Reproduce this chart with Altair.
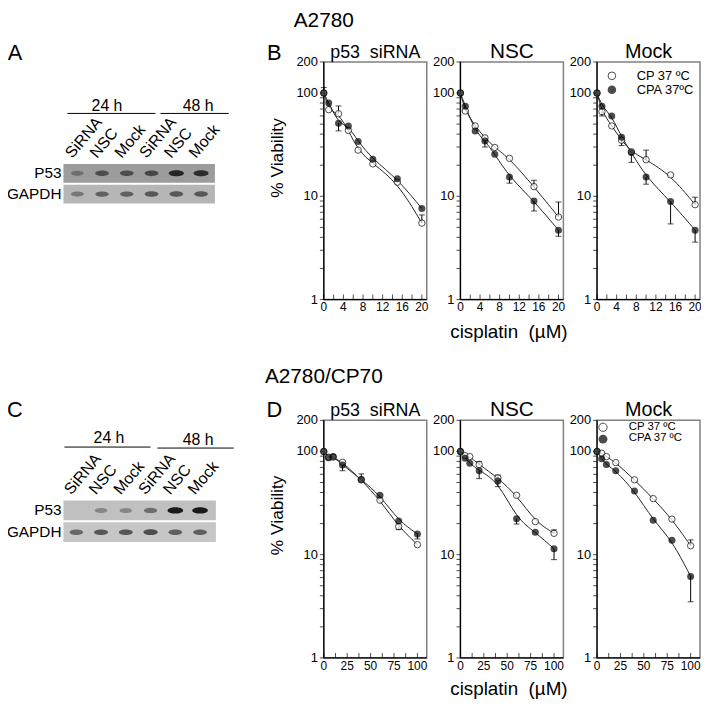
import altair as alt
import pandas as pd

W, H = 700, 692
OX, OY = 8, 8
FONT = "Liberation Sans"
NB = "\u00a0"

# ---------------- data ----------------
conc_a2780 = [0, 1, 3, 5, 7, 10, 15, 20]
conc_cp70 = [0, 5, 10, 20, 40, 60, 80, 100]

a2780_sirna_cp = [100, 69, 63, 43.5, 28, 20.6, 13.7, 5.5]
a2780_sirna_cpa = [100, 80, 51, 48, 34, 22.8, 14.8, 7.6]
a2780_nsc_cp = [100, 67, 48, 36.8, 29.7, 23.3, 12.4, 6.3]
a2780_nsc_cpa = [100, 74.5, 43, 34.4, 25.6, 15.4, 9.0, 4.7]
a2780_mock_cp = [100, 66, 48, 34.9, 27, 22.6, 16.1, 8.3]
a2780_mock_cpa = [100, 74.5, 59.8, 37.3, 26.6, 15.4, 8.9, 4.7]

cp70_sirna_cp = [100, 88, 88, 78.5, 53, 33.7, 18.7, 12.5]
cp70_sirna_cpa = [100, 87, 89.5, 74, 53.5, 37.6, 21.2, 15.9]
cp70_nsc_cp = [100, 91, 89, 74.6, 55.5, 37.6, 20.9, 16.1]
cp70_nsc_cpa = [100, 86, 77, 65, 51.6, 22.3, 16.5, 11.4]
cp70_mock_cp = [100, 96, 89, 77.9, 53.1, 34.9, 22.1, 12.2]
cp70_mock_cpa = [100, 85, 74.5, 65, 41.4, 21.5, 13.8, 6.15]

# error bars: (series, concentration, bar end)
a2780_sirna_err = [("CPA", 0, 113), ("CP", 3, 75), ("CPA", 3, 43), ("CP", 20, 6.6)]
a2780_nsc_err = [("CPA", 5, 30), ("CPA", 10, 13.4), ("CPA", 15, 7.2), ("CPA", 20, 4.1),
                 ("CP", 15, 14.3), ("CP", 20, 8.8)]
a2780_mock_err = [("CP", 1, 60), ("CP", 5, 31), ("CPA", 7, 21.3), ("CPA", 10, 13.1),
                  ("CP", 10, 28), ("CPA", 15, 5.4), ("CPA", 20, 3.6), ("CP", 20, 9.8)]
cp70_sirna_err = [("CPA", 20, 65), ("CPA", 40, 60.6), ("CP", 80, 17.5), ("CPA", 100, 14.2)]
cp70_nsc_err = [("CPA", 20, 54.5), ("CP", 20, 80), ("CPA", 40, 45.6), ("CP", 40, 59),
                ("CPA", 60, 19.8), ("CPA", 100, 8.95), ("CP", 100, 17.4)]
cp70_mock_err = [("CPA", 100, 3.5), ("CP", 100, 13.9)]

xticks_a2780 = [0, 2, 4, 6, 8, 10, 12, 14, 16, 18, 20]
xlabels_a2780 = [0, 4, 8, 12, 16, 20]
xticks_cp70 = [0, 12.5, 25, 37.5, 50, 62.5, 75, 87.5, 100]
xlabels_cp70 = [0, 25, 50, 75, 100]
yticks = [1, 2, 3, 4, 5, 6, 7, 8, 9, 10, 20, 30, 40, 50, 60, 70, 80, 90, 100, 200]
ylabels = [1, 10, 100, 200]

# western blots (relative band intensity)
lanes = ["SiRNA 24 h", "NSC 24 h", "Mock 24 h", "SiRNA 48 h", "NSC 48 h", "Mock 48 h"]
lane_names = ["SiRNA", "NSC", "Mock", "SiRNA", "NSC", "Mock"]
blot_rows = ["P53", "GAPDH"]
a2780_p53_band = [0.35, 0.6, 0.6, 0.65, 0.9, 0.85]
a2780_gapdh_band = [0.4, 0.55, 0.55, 0.6, 0.6, 0.6]
cp70_p53_band = [0.0, 0.35, 0.35, 0.5, 1.0, 1.0]
cp70_gapdh_band = [0.55, 0.65, 0.65, 0.7, 0.6, 0.6]

# ---------------- helpers ----------------
PW, PH = 104, 240
ONE = pd.DataFrame({"a": [0]})
ELLIPSE = "M -1 0 A 1 0.4 0 1 1 1 0 A 1 0.4 0 1 1 -1 0 Z"


def txt(text, x, y, size, align="center", baseline="middle", angle=0):
    return alt.Chart(pd.DataFrame({"t": [text]})).mark_text(
        align=align, baseline=baseline, angle=angle, fontSize=size, font=FONT, color="black"
    ).encode(text="t:N", x=alt.value(x - OX), y=alt.value(y - OY))


def hline(x1, x2, y):
    return alt.Chart(ONE).mark_rule(color="black", strokeWidth=1).encode(
        x=alt.value(x1 - OX), x2=alt.value(x2 - OX), y=alt.value(y - OY))


def sym(x, y, size, filled):
    if filled:
        m = alt.Chart(ONE).mark_point(shape="circle", filled=True, color="black", size=size)
    else:
        m = alt.Chart(ONE).mark_point(shape="circle", filled=True, fill="white",
                                      stroke="black", strokeWidth=1, size=size)
    return m.encode(x=alt.value(x - OX), y=alt.value(y - OY))


def panel(conc, cp, cpa, err, xmax, xticks, xlabels, px, py, title, tsize):
    x0 = px - OX
    x1 = x0 + PW
    yt = py - OY
    yb = yt + PH
    xs = alt.Scale(domain=[0, xmax], range=[x0, x1], nice=False, zero=False)
    ys = alt.Scale(type="log", domain=[1, 200], range=[yb, yt], nice=False)
    X0 = alt.XDatum(0, type="quantitative", scale=xs, axis=None)
    Y1 = alt.YDatum(1, type="quantitative", scale=ys, axis=None)
    n = len(conc)
    df = pd.DataFrame({"conc": conc + conc, "v": cp + cpa, "s": ["CP"] * n + ["CPA"] * n})
    base = alt.Chart(df)
    Xc = alt.X("conc:Q", scale=xs, axis=None)
    Yv = alt.Y("v:Q", scale=ys, axis=None)

    frame = alt.Chart(ONE).mark_rect(fillOpacity=0, stroke="#808080", strokeWidth=1.5).encode(
        x=X0, x2=alt.X2Datum(xmax), y=Y1, y2=alt.Y2Datum(200))
    left = alt.Chart(ONE).mark_rule(color="black", strokeWidth=1.3).encode(
        x=X0, y=Y1, y2=alt.Y2Datum(200))
    bottom = alt.Chart(ONE).mark_rule(color="black", strokeWidth=1.3).encode(
        x=X0, x2=alt.X2Datum(xmax), y=Y1)

    # y ticks and labels
    ytdf = pd.DataFrame({"t": yticks})
    ytk = alt.Chart(ytdf).mark_tick(orient="horizontal", size=4, thickness=1, color="black",
                                    xOffset=-2).encode(
        x=X0, y=alt.Y("t:Q", scale=ys, axis=None))
    yldf = pd.DataFrame({"t": ylabels})
    ylab = alt.Chart(yldf).mark_text(align="right", baseline="middle", fontSize=13, font=FONT,
                                     color="black", xOffset=-6).encode(
        x=X0, y=alt.Y("t:Q", scale=ys, axis=None), text=alt.Text("t:Q", format="d"))
    # x ticks (inward) and labels
    xtdf = pd.DataFrame({"t": xticks})
    xtk = alt.Chart(xtdf).mark_tick(orient="vertical", size=5, thickness=1, color="black",
                                    yOffset=-2.5).encode(
        x=alt.X("t:Q", scale=xs, axis=None), y=Y1)
    xldf = pd.DataFrame({"t": xlabels})
    xlab = alt.Chart(xldf).mark_text(align="center", baseline="top", fontSize=12, font=FONT,
                                     color="black", yOffset=3).encode(
        x=alt.X("t:Q", scale=xs, axis=None), y=Y1, text=alt.Text("t:Q", format="d"))

    lines = base.mark_line(interpolate="basis", color="#222", strokeWidth=1).encode(
        x=Xc, y=Yv, detail="s:N")
    vals = {"CP": dict(zip(conc, cp)), "CPA": dict(zip(conc, cpa))}
    edf = pd.DataFrame({"conc": [c for s, c, e in err],
                        "v": [vals[s][c] for s, c, e in err],
                        "e": [e for s, c, e in err]})
    rules = alt.Chart(edf).mark_rule(color="black", strokeWidth=1).encode(
        x=Xc, y=Yv, y2="e:Q")
    caps = alt.Chart(edf).mark_tick(orient="horizontal", size=6, thickness=1, color="black").encode(
        x=Xc, y=alt.Y("e:Q", scale=ys, axis=None))
    opn = base.transform_filter("datum.s == 'CP'").mark_point(
        shape="circle", filled=True, fill="white", stroke="black", strokeWidth=1, size=42).encode(
        x=Xc, y=Yv)
    fil = base.transform_filter("datum.s == 'CPA'").mark_point(
        shape="circle", filled=True, color="black", size=50).encode(x=Xc, y=Yv)
    ttl = txt(title, px + PW / 2, py - 4, tsize, baseline="alphabetic")
    return alt.layer(frame, left, bottom, ytk, ylab, xtk, xlab, lines, rules, caps, opn, fil, ttl)


def blot(p53, gapdh, left, right, top, row_h, gap, lane_l, lane_r, bg, lab_y):
    R = 2 * row_h + gap
    yscale = alt.Scale(type="band", domain=blot_rows, range=[top - OY, top - OY + R],
                       paddingInner=gap / (row_h + gap), paddingOuter=0)
    xscale = alt.Scale(type="point", domain=lanes, range=[lane_l - OX, lane_r - OX], padding=0)
    rows_df = pd.DataFrame({"row": blot_rows})
    bgl = alt.Chart(rows_df).mark_rect().encode(
        y=alt.Y("row:N", scale=yscale, axis=None),
        x=alt.value(left - OX), x2=alt.value(right - OX),
        color=alt.Color("row:N", scale=alt.Scale(domain=blot_rows, range=bg), legend=None))
    bdf = pd.DataFrame({"lane": lanes * 2, "row": ["P53"] * 6 + ["GAPDH"] * 6, "i": p53 + gapdh})
    bands = alt.Chart(bdf).mark_point(shape=ELLIPSE, filled=True, color="#111", strokeWidth=0).encode(
        x=alt.X("lane:N", scale=xscale, axis=None),
        y=alt.Y("row:N", scale=yscale, axis=None),
        opacity=alt.Opacity("i:Q", scale=alt.Scale(domain=[0, 1], range=[0, 0.95]), legend=None),
        size=alt.Size("i:Q", scale=alt.Scale(domain=[0, 1], range=[110, 250]), legend=None))
    ldf = pd.DataFrame({"lane": lanes, "name": lane_names})
    ll = alt.Chart(ldf).mark_text(angle=310, align="left", baseline="alphabetic", fontSize=16,
                                  font=FONT, color="black", xOffset=-5).encode(
        x=alt.X("lane:N", scale=xscale, axis=None), y=alt.value(lab_y - OY), text="name:N")
    rl = alt.Chart(rows_df).mark_text(align="right", baseline="middle", fontSize=15.5, font=FONT,
                                      color="black").encode(
        y=alt.Y("row:N", scale=yscale, axis=None), x=alt.value(left - OX - 2), text="row:N")
    return alt.layer(bgl, bands, ll, rl)


PX = [327, 465, 603]
PYT, PYB = 59, 421
SIRNA = "p53" + NB + " siRNA"
CIS = "cisplatin" + NB + " (µM)"

layers = [
    panel(conc_a2780, a2780_sirna_cp, a2780_sirna_cpa, a2780_sirna_err, 21, xticks_a2780,
          xlabels_a2780, PX[0], PYT, SIRNA, 18),
    panel(conc_a2780, a2780_nsc_cp, a2780_nsc_cpa, a2780_nsc_err, 21, xticks_a2780,
          xlabels_a2780, PX[1], PYT, "NSC", 21),
    panel(conc_a2780, a2780_mock_cp, a2780_mock_cpa, a2780_mock_err, 21, xticks_a2780,
          xlabels_a2780, PX[2], PYT, "Mock", 20),
    panel(conc_cp70, cp70_sirna_cp, cp70_sirna_cpa, cp70_sirna_err, 110, xticks_cp70,
          xlabels_cp70, PX[0], PYB, SIRNA, 18),
    panel(conc_cp70, cp70_nsc_cp, cp70_nsc_cpa, cp70_nsc_err, 110, xticks_cp70,
          xlabels_cp70, PX[1], PYB, "NSC", 21),
    panel(conc_cp70, cp70_mock_cp, cp70_mock_cpa, cp70_mock_err, 110, xticks_cp70,
          xlabels_cp70, PX[2], PYB, "Mock", 20),
    blot(a2780_p53_band, a2780_gapdh_band, 64, 217, 162, 19, 2, 78, 203,
         ["#9c9c9c", "#b6b6b6"], 157),
    blot(cp70_p53_band, cp70_gapdh_band, 64, 218, 502, 20, 2, 77, 202,
         ["#c0c0c0", "#c6c6c6"], 497),
    # legends
    sym(618, 73, 60, False), sym(618, 87, 75, True),
    txt("CP 37 ºC", 643, 73, 13, align="left"), txt("CPA 37ºC", 643, 87, 13, align="left"),
    sym(609, 428, 70, False), sym(609, 440, 80, True),
    txt("CP 37 ºC", 635, 428, 11.5, align="left"), txt("CPA 37 ºC", 635, 439, 11.5, align="left"),
    # titles and labels
    txt("A2780", 327, 18, 21), txt("A2780/CP70", 327, 377, 21),
    txt("A", 15, 50, 22), txt("B", 277, 50, 22), txt("C", 15, 411, 22), txt("D", 277, 411, 22),
    txt("% Viability", 281, 156, 17.5, angle=270), txt("% Viability", 281, 517, 17.5, angle=270),
    txt(CIS, 514, 332, 19), txt(CIS, 514, 692, 19),
    txt("24 h", 108, 104, 16), txt("48 h", 200, 104, 16), hline(68, 157, 111), hline(162, 231, 111),
    txt("24 h", 110, 439, 16), txt("48 h", 200, 441, 16), hline(65, 152, 448), hline(159, 236, 449),
]

chart = alt.layer(*layers).resolve_scale(
    x="independent", y="independent", color="independent", opacity="independent",
    size="independent").properties(
    width=W, height=H, autosize=alt.AutoSizeParams(type="none"), padding=0
).configure_view(stroke=None)

chart.save("out.html", embed_options={"renderer": "svg", "actions": False})
